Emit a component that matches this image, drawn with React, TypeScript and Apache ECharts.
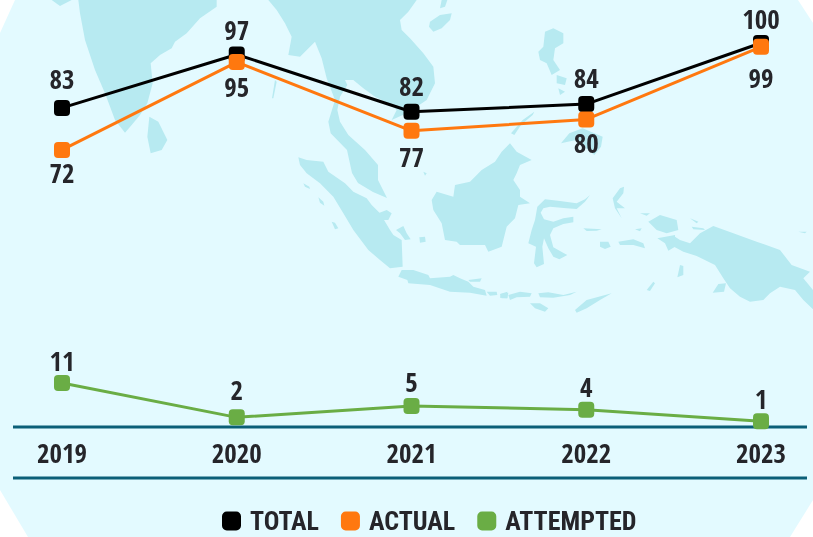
import React, { useEffect, useRef } from "react";
import * as echarts from "echarts";

const years = ["2019", "2020", "2021", "2022", "2023"];
const totalValues = [83, 97, 82, 84, 100];
const actualValues = [72, 95, 77, 80, 99];
const attemptedValues = [11, 2, 5, 4, 1];
const totalLabelGaps = [8, 3, 5, 5, 3];
const actualLabelGaps = [1, 3, 4, 2, 9];
const attemptedLabelGaps = [1, 6, 3, 2, 1];

const FONT = "'Open Sans Condensed', 'Roboto Condensed', sans-serif";
const LEGEND_FONT = "'Roboto Condensed', 'Open Sans Condensed', sans-serif";
const INK = "#25252a";
const LAND = "#b7eaf1";
const SEA = "#e3faff";
const RULE = "#0b5f78";

type Shape = { o: [number, number]; p: number[] };
const shapes: Shape[] = [
  { o: [60, 0], p: [55,0,60,40,75,120,105,210,135,280,165,360,195,398,215,375,240,345,262,310,278,250,272,190,300,165,335,145,345,125,380,100,420,55,470,20,470,0] },
  { o: [60, 0], p: [268,350,295,365,322,420,305,450,272,460,262,410] },
  { o: [0, 0], p: [155,0,180,18,215,0] },
  { o: [260, 0], p: [25,0,50,30,75,70,95,110,85,165,120,170,165,125,185,175,200,235,225,300,205,365,212,400,261,450,276,519,294,549,339,576,381,594,354,540,354,495,315,450,265,405,240,365,232,330,240,290,262,255,255,240,280,240,310,265,345,290,385,310,410,330,395,360,440,340,470,320,500,300,525,250,520,200,490,160,450,115,425,90,420,60,445,35,470,0] },
  { o: [260, 0], p: [510,65,540,45,575,40,570,60,545,85,520,95,507,80] },
  { o: [260, 0], p: [545,0,562,0,555,20,540,25] },
  { o: [260, 0], p: [45,240,50,245,40,295,36,295] },
  { o: [290, 150], p: [25,22,50,30,100,35,115,65,165,100,190,125,230,145,245,165,270,190,300,240,310,255,335,270,338,350,300,355,270,330,235,300,190,240,160,190,130,140,90,100,50,70,30,45] },
  { o: [290, 150], p: [318,240,340,228,350,250,362,268,345,270,330,250] },
  { o: [290, 150], p: [388,262,405,260,407,275,390,278] },
  { o: [290, 150], p: [85,142,100,155,103,167,90,158] },
  { o: [290, 150], p: [125,215,135,218,145,235,135,238] },
  { o: [290, 150], p: [40,100,58,110,60,117,45,110] },
  { o: [290, 150], p: [265,190,290,180,305,190,295,210,270,210] },
  { o: [290, 150], p: [335,360,370,360,415,375,420,385,480,380,490,375,510,385,535,395,550,410,585,420,590,437,540,428,480,425,420,405,355,400,352,390,325,380] },
  { o: [290, 150], p: [590,425,620,425,622,435,600,437] },
  { o: [290, 150], p: [632,432,655,428,652,445,630,443] },
  { o: [290, 150], p: [535,390,575,385,570,395,540,395] },
  { o: [420, 140], p: [270,10,290,35,335,60,300,75,290,100,280,120,300,150,300,170,330,190,295,195,285,235,260,260,245,320,205,335,195,315,120,315,110,305,75,300,65,250,40,210,35,180,50,155,100,170,105,135,150,125,185,90,225,65,245,35] },
  { o: [420, 140], p: [10,95,20,100,15,107] },
  { o: [420, 140], p: [510,165,495,185,470,207,440,205,390,200,370,205,362,218,372,238,400,245,430,235,460,230,460,247,430,252,400,265,390,285,400,322,432,340,442,345,418,358,400,350,385,325,372,295,367,320,372,372,350,382,342,370,348,320,325,310,335,270,345,240,352,200,375,178,420,183,470,190,495,178] },
  { o: [420, 140], p: [240,462,262,455,262,475,245,475] },
  { o: [420, 140], p: [265,465,300,455,335,460,330,470,290,472,270,480] },
  { o: [420, 140], p: [355,460,385,457,430,465,470,455,450,465,400,473,360,472] },
  { o: [420, 140], p: [330,490,360,490,385,505,375,515,345,505] },
  { o: [420, 140], p: [465,510,500,480,575,460,540,480,500,505,470,518] },
  { o: [420, 140], p: [490,265,545,268,530,272,500,273] },
  { o: [420, 140], p: [600,145,612,140,610,160,590,185,615,205,590,205,605,235,585,205,578,175] },
  { o: [600, 190], p: [340,108,400,130,470,155,540,180,575,225,630,245,610,265,639,300,639,358,610,330,585,300,540,290,510,310,490,330,450,335,420,320,390,295,370,265,345,225,290,198,250,185,222,170,225,140,240,150,270,160,300,130] },
  { o: [600, 190], p: [145,95,180,75,230,90,235,120,200,130,170,120] },
  { o: [600, 190], p: [172,145,225,135,225,170,205,182,195,160] },
  { o: [600, 190], p: [338,308,355,282,378,280,372,305] },
  { o: [600, 190], p: [232,262,240,225,250,228,250,255] },
  { o: [600, 190], p: [55,155,100,148,130,160,135,175,100,165,60,165] },
  { o: [600, 190], p: [0,155,25,155,32,170,15,177,0,170] },
  { o: [600, 190], p: [120,70,150,70,140,77] },
  { o: [600, 190], p: [270,85,295,95,290,100] },
  { o: [600, 190], p: [275,110,310,115,315,120,280,118] },
  { o: [600, 190], p: [595,125,620,125,615,130] },
  { o: [600, 190], p: [105,118,125,115,120,124] },
  { o: [600, 190], p: [140,300,160,275,165,280,150,303] },
  { o: [520, 20], p: [75,35,100,25,130,40,130,70,105,85,100,120,120,150,95,165,80,130,60,120,55,95,70,80] },
  { o: [520, 20], p: [110,165,140,175,135,195,110,190] },
  { o: [520, 20], p: [115,205,135,215,120,225] },
  { o: [406, 0], p: [465,430,490,400,530,385,590,410,585,440,565,465,540,445,510,420] },
  { o: [406, 0], p: [315,400,350,360,385,335,380,345,345,375,325,405] },
];

const mapGraphics = shapes.map((s) => {
  const points: number[][] = [];
  for (let i = 0; i < s.p.length; i += 2) {
    points.push([s.o[0] + s.p[i] / 3, s.o[1] + s.p[i + 1] / 3]);
  }
  return { type: "polygon", silent: true, shape: { points }, style: { fill: LAND } };
});

export default function App() {
  const ref = useRef<HTMLDivElement>(null);
  useEffect(() => {
    if (!ref.current) return;
    const chart = echarts.init(ref.current, undefined, { renderer: "svg" });
    const labelStyle = { show: true, fontFamily: FONT, fontWeight: "bold", fontSize: 27, color: INK };
    const lineSeries = (name: string, color: string, values: number[], gaps: number[], position: string, z: number) => ({
      name,
      type: "line",
      z,
      clip: false,
      data: values.map((value, i) => ({
        value,
        label: { ...labelStyle, position, distance: gaps[i] },
      })),
      symbol: "roundRect",
      symbolSize: 16,
      lineStyle: { color, width: 3 },
      itemStyle: { color },
    });
    chart.setOption({
      animation: false,
      graphic: [
        {
          type: "polygon",
          silent: true,
          shape: { points: [[15, 0], [798, 0], [813, 23], [813, 500], [790, 537], [28, 537], [0, 490], [0, 33]] },
          style: { fill: SEA },
        },
        ...mapGraphics,
        { type: "line", silent: true, shape: { x1: 13, y1: 427, x2: 807, y2: 427 }, style: { stroke: RULE, lineWidth: 3 } },
        { type: "line", silent: true, shape: { x1: 13, y1: 478, x2: 807, y2: 478 }, style: { stroke: RULE, lineWidth: 3 } },
      ],
      grid: { left: 62, right: 52, top: 43, bottom: 112 },
      legend: {
        left: 217,
        top: 503,
        itemWidth: 19,
        itemHeight: 19,
        itemGap: 22,
        icon: "roundRect",
        textStyle: { fontFamily: LEGEND_FONT, fontWeight: "bold", fontSize: 26, color: INK, padding: [0, 0, 0, 4] },
        data: ["TOTAL", "ACTUAL", "ATTEMPTED"],
      },
      xAxis: {
        type: "category",
        boundaryGap: false,
        data: years,
        axisLine: { show: false },
        axisTick: { show: false },
        axisLabel: { fontFamily: FONT, fontWeight: "bold", fontSize: 27, color: INK, margin: 14 },
      },
      yAxis: { type: "value", min: 0, max: 100, show: false },
      series: [
        lineSeries("TOTAL", "#000000", totalValues, totalLabelGaps, "top", 3),
        lineSeries("ACTUAL", "#ff780f", actualValues, actualLabelGaps, "bottom", 4),
        lineSeries("ATTEMPTED", "#6aad45", attemptedValues, attemptedLabelGaps, "top", 5),
      ],
    });
    return () => chart.dispose();
  }, []);
  return <div ref={ref} style={{ position: "fixed", left: 0, top: 0, width: 813, height: 537 }} />;
}
